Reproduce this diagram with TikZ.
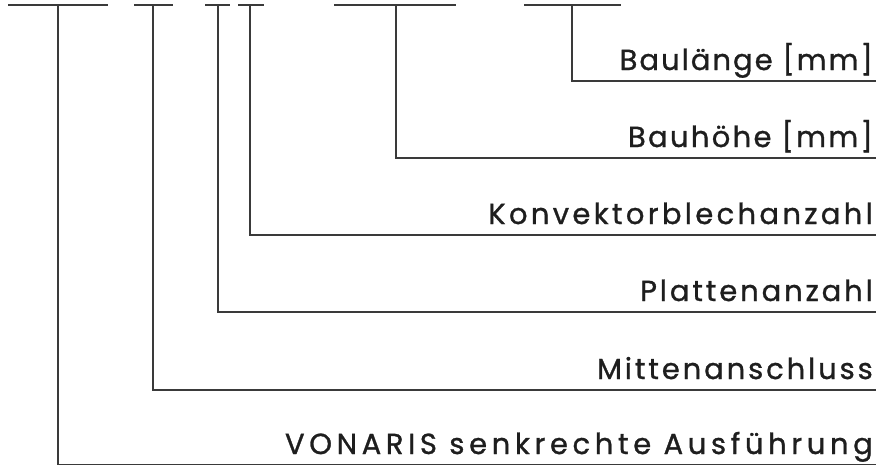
\documentclass[tikz,border=0pt]{standalone}
\usepackage{fontspec}
\newfontfamily\labelfont[LetterSpace=10,Ligatures=NoCommon,FakeBold=1]{Poppins}
\usepackage{tikz}
\usetikzlibrary{positioning}
\definecolor{leadgray}{HTML}{3A3A3A}
\definecolor{textgray}{HTML}{1E1E1E}

\begin{document}
\begin{tikzpicture}[x=1pt,y=-1pt,
  lead/.style={draw=leadgray,line width=1.3pt},
  lbl/.style={anchor=base east,inner sep=0pt,text=textgray,font=\labelfont\fontsize{29}{34}\selectfont}]
  \useasboundingbox (0,0) rectangle (878,466);
  % code groups at the top
  \coordinate (a1) at (8,5);   \coordinate (a2) at (108,5);  \coordinate (ta) at (58,5);
  \coordinate (b1) at (134,5); \coordinate (b2) at (173,5);  \coordinate (tb) at (153,5);
  \coordinate (c1) at (205,5); \coordinate (c2) at (230,5);  \coordinate (tc) at (218,5);
  \coordinate (d1) at (238,5); \coordinate (d2) at (264,5);  \coordinate (td) at (250,5);
  \coordinate (e1) at (334,5); \coordinate (e2) at (456,5);  \coordinate (te) at (396,5);
  \coordinate (f1) at (524,5); \coordinate (f2) at (621,5);  \coordinate (tf) at (572,5);
  \draw[lead] (a1)--(a2); \draw[lead] (b1)--(b2); \draw[lead] (c1)--(c2);
  \draw[lead] (d1)--(d2); \draw[lead] (e1)--(e2); \draw[lead] (f1)--(f2);
  % labels
  \node[lbl] (len) at (873,70) {\addfontfeature{LetterSpace=7}Baulänge [mm]};
  \node[lbl] (hgt) at (873,147) {\addfontfeature{LetterSpace=8}Bauhöhe [mm]};
  \node[lbl] (konv) at (873,224) {\addfontfeature{LetterSpace=11.5}Konvektorblechanzahl};
  \node[lbl] (plat) at (873,301) {Plattenanzahl};
  \node[lbl] (mitt) at (873,379) {Mittenanschluss};
  \node[lbl] (von) at (873,454) {\addfontfeature{LetterSpace=16}VONARIS senkrechte Ausführung};
  \coordinate (rf) at (876,81);  \coordinate (re) at (876,158);
  \coordinate (rd) at (876,235); \coordinate (rc) at (876,312);
  \coordinate (rb) at (876,390); \coordinate (ra) at (876,464.5);
  \draw[lead] (tf) |- (rf); \draw[lead] (te) |- (re);
  \draw[lead] (td) |- (rd); \draw[lead] (tc) |- (rc);
  \draw[lead] (tb) |- (rb); \draw[lead] (ta) |- (ra);
\end{tikzpicture}
\end{document}
